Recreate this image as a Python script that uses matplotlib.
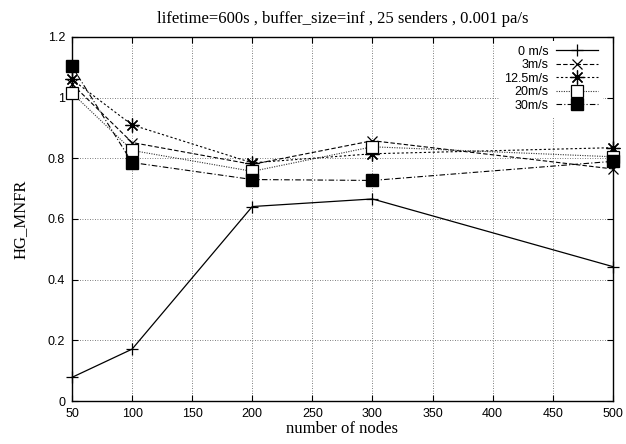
import matplotlib
matplotlib.use("Agg")
import matplotlib.pyplot as plt

# number of nodes on the x axis
nodes = [50, 100, 200, 300, 500]

# HG_MNFR per node speed
speed_0 = [0.078, 0.171, 0.641, 0.666, 0.443]
speed_3 = [1.045, 0.852, 0.780, 0.858, 0.765]
speed_12_5 = [1.060, 0.910, 0.785, 0.815, 0.835]
speed_20 = [1.015, 0.826, 0.757, 0.838, 0.805]
speed_30 = [1.103, 0.786, 0.730, 0.727, 0.790]

labels = ["0 m/s", "3m/s", "12.5m/s", "20m/s", "30m/s"]

serif = ["Liberation Serif", "DejaVu Serif"]
sans = ["Liberation Sans", "DejaVu Sans"]

fig = plt.figure(figsize=(6.26, 4.44), dpi=100)
ax = fig.add_axes([0.115, 0.0968, 0.864, 0.82])

common = dict(clip_on=False, zorder=3)
ax.plot(nodes, speed_0, color="black", linestyle="-", linewidth=0.9,
        marker="+", markersize=9, markeredgewidth=0.9, label=labels[0], **common)
ax.plot(nodes, speed_3, color="black", linestyle=(0, (4, 2)), linewidth=0.8,
        marker="x", markersize=7.5, markeredgewidth=0.9, label=labels[1], **common)
ax.plot(nodes, speed_12_5, color="black", linestyle=(0, (2, 2)), linewidth=0.8,
        marker=(8, 2, 0), markersize=10, markeredgewidth=0.9, label=labels[2],
        **common)
ax.plot(nodes, speed_20, color="#333333", linestyle=(0, (1, 1.2)), linewidth=0.8,
        marker="s", markersize=8.5, markerfacecolor="white",
        markeredgecolor="black", markeredgewidth=0.9, label=labels[3], **common)
ax.plot(nodes, speed_30, color="black", linestyle=(0, (5, 2, 1, 2)),
        linewidth=0.8, marker="s", markersize=9, markerfacecolor="black",
        markeredgecolor="black", label=labels[4], **common)

ax.set_xlim(50, 500)
ax.set_ylim(0, 1.2)
ax.set_xticks(range(50, 501, 50))
ax.set_yticks([0, 0.2, 0.4, 0.6, 0.8, 1.0, 1.2])
ax.set_yticklabels(["0", "0.2", "0.4", "0.6", "0.8", "1", "1.2"])
ax.tick_params(direction="in", top=True, right=True, length=4, width=0.8,
               labelsize=9, pad=5)
for lab in ax.get_xticklabels() + ax.get_yticklabels():
    lab.set_family(sans)
ax.grid(True, color="#555555", linestyle=(0, (1, 2)), linewidth=0.6)
for sp in ax.spines.values():
    sp.set_linewidth(1.0)

ax.set_xlabel("number of nodes", family=serif, fontsize=12, labelpad=1)
ax.set_ylabel("HG_MNFR", family=serif, fontsize=12, labelpad=14)
ax.set_title("lifetime=600s , buffer_size=inf , 25 senders , 0.001 pa/s",
             family=serif, fontsize=12, pad=10)

leg = ax.legend(loc="upper right", bbox_to_anchor=(0.989, 1.0),
                markerfirst=False, frameon=True,
                prop={"family": sans, "size": 9}, handlelength=3.4,
                labelspacing=0.12, borderaxespad=0.3, handletextpad=0.6)
leg.get_frame().set_edgecolor("none")
leg.get_frame().set_facecolor("white")
leg.get_frame().set_alpha(1.0)
leg.set_zorder(2)
for t in leg.get_texts():
    t.set_ha("right")
leg._legend_box.align = "right"

fig.savefig("out.png", dpi=100)
